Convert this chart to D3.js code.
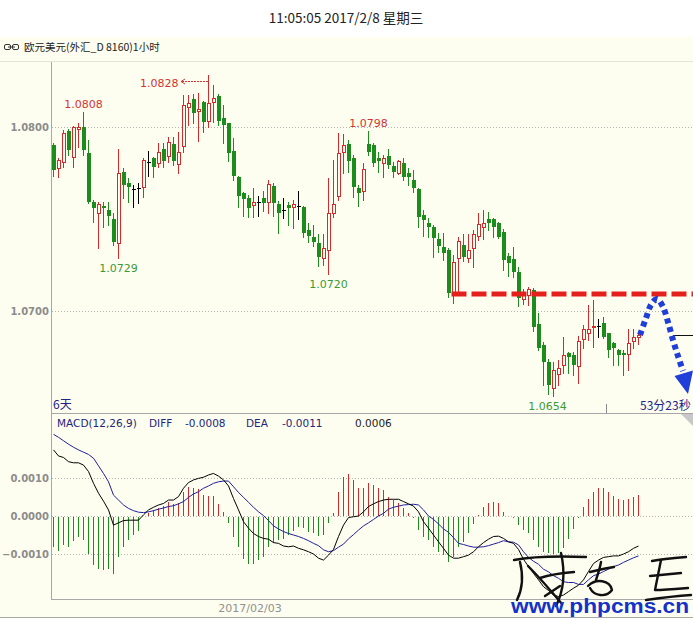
<!DOCTYPE html>
<html><head><meta charset="utf-8">
<script src="https://cdn.jsdelivr.net/npm/d3@7"></script>
<style>html,body{margin:0;padding:0;background:#fff;}svg{display:block;}</style>
</head><body>
<svg id="c" width="693" height="620"></svg>
<script>
// ---------- data ----------
const categories = d3.range(118); // hourly bars, oldest -> newest
const open = [
1.07902,1.07777,1.07810,1.07978,1.07837,1.07989,1.08000,1.07859,1.07592,1.07533,
1.07571,1.07549,1.07500,1.07370,1.07755,1.07696,1.07663,1.07668,1.07674,1.07810,
1.07832,1.07804,1.07880,1.07842,1.07908,1.07799,1.07897,1.08109,1.08152,1.08087,
1.08136,1.08033,1.08136,1.08168,1.08049,1.08022,1.07870,1.07728,1.07641,1.07614,
1.07576,1.07592,1.07614,1.07592,1.07679,1.07582,1.07549,1.07576,1.07565,1.07571,
1.07565,1.07440,1.07402,1.07370,1.07288,1.07332,1.07533,1.07625,1.07864,1.07908,
1.07832,1.07668,1.07652,1.07908,1.07902,1.07832,1.07804,1.07842,1.07788,1.07750,
1.07804,1.07750,1.07712,1.07663,1.07522,1.07478,1.07457,1.07391,1.07348,1.07332,
1.07103,1.07288,1.07359,1.07288,1.07342,1.07408,1.07457,1.07500,1.07500,1.07478,
1.07429,1.07299,1.07283,1.07212,1.07065,1.07087,1.07114,1.06929,1.06815,1.06723,
1.06582,1.06658,1.06707,1.06772,1.06761,1.06701,1.06848,1.06880,1.06913,1.06918,
1.06935,1.06880,1.06826,1.06788,1.06772,1.06766,1.06837,1.06859];
const high = [
1.07913,1.07832,1.07984,1.07989,1.08005,1.08022,1.08082,1.07929,1.07603,1.07592,
1.07592,1.07592,1.07533,1.07880,1.07777,1.07723,1.07685,1.07696,1.07832,1.07870,
1.07837,1.07913,1.07913,1.07946,1.07946,1.07973,1.08174,1.08174,1.08179,1.08185,
1.08141,1.08283,1.08228,1.08179,1.08120,1.08022,1.07940,1.07734,1.07647,1.07630,
1.07668,1.07625,1.07652,1.07712,1.07696,1.07598,1.07614,1.07592,1.07603,1.07652,
1.07571,1.07478,1.07467,1.07418,1.07418,1.07723,1.07821,1.07967,1.07962,1.07929,
1.07848,1.07685,1.07804,1.07978,1.07913,1.07864,1.07848,1.07880,1.07810,1.07821,
1.07832,1.07777,1.07766,1.07668,1.07549,1.07505,1.07467,1.07424,1.07424,1.07342,
1.07304,1.07402,1.07418,1.07418,1.07440,1.07533,1.07549,1.07538,1.07505,1.07484,
1.07446,1.07315,1.07348,1.07239,1.07120,1.07130,1.07125,1.06989,1.06832,1.06739,
1.06723,1.06734,1.06859,1.06777,1.06777,1.06864,1.06924,1.07033,1.07060,1.06957,
1.06967,1.06880,1.06832,1.06793,1.06788,1.06902,1.06902,1.06875];
const low = [
1.07734,1.07728,1.07783,1.07848,1.07783,1.07891,1.07848,1.07587,1.07484,1.07342,
1.07457,1.07467,1.07359,1.07288,1.07614,1.07592,1.07565,1.07587,1.07620,1.07734,
1.07728,1.07783,1.07783,1.07810,1.07793,1.07750,1.07864,1.08011,1.08022,1.07924,
1.07973,1.08000,1.08027,1.08011,1.07913,1.07815,1.07712,1.07565,1.07516,1.07511,
1.07511,1.07516,1.07543,1.07533,1.07516,1.07424,1.07505,1.07467,1.07451,1.07500,
1.07402,1.07375,1.07353,1.07245,1.07250,1.07201,1.07511,1.07603,1.07750,1.07755,
1.07620,1.07571,1.07603,1.07848,1.07788,1.07755,1.07728,1.07777,1.07728,1.07745,
1.07712,1.07685,1.07647,1.07457,1.07408,1.07402,1.07293,1.07321,1.07277,1.07076,
1.07043,1.07103,1.07272,1.07266,1.07239,1.07386,1.07391,1.07440,1.07402,1.07397,
1.07223,1.07190,1.07185,1.07027,1.07038,1.07033,1.06891,1.06788,1.06598,1.06548,
1.06540,1.06598,1.06663,1.06663,1.06652,1.06609,1.06799,1.06842,1.06804,1.06859,
1.06853,1.06750,1.06707,1.06707,1.06652,1.06679,1.06799,1.06821];
const close = [
1.07766,1.07821,1.07967,1.07875,1.08000,1.08000,1.07875,1.07592,1.07560,1.07582,
1.07560,1.07516,1.07375,1.07750,1.07685,1.07674,1.07663,1.07668,1.07821,1.07810,
1.07783,1.07864,1.07815,1.07918,1.07815,1.07864,1.08120,1.08130,1.08076,1.08098,
1.08027,1.08130,1.08158,1.08033,1.08011,1.07859,1.07734,1.07625,1.07609,1.07560,
1.07592,1.07592,1.07587,1.07690,1.07587,1.07533,1.07549,1.07560,1.07582,1.07571,
1.07424,1.07408,1.07375,1.07293,1.07342,1.07533,1.07582,1.07859,1.07902,1.07815,
1.07674,1.07641,1.07772,1.07864,1.07804,1.07815,1.07832,1.07793,1.07755,1.07815,
1.07728,1.07728,1.07668,1.07511,1.07495,1.07457,1.07397,1.07353,1.07315,1.07098,
1.07266,1.07380,1.07293,1.07332,1.07418,1.07473,1.07478,1.07478,1.07457,1.07402,
1.07277,1.07261,1.07212,1.07071,1.07087,1.07120,1.06913,1.06799,1.06723,1.06598,
1.06679,1.06690,1.06761,1.06750,1.06707,1.06837,1.06902,1.06902,1.06918,1.06918,
1.06859,1.06788,1.06799,1.06761,1.06761,1.06826,1.06859,1.06870];

const diff = [
0.00174,0.00158,0.00154,0.00143,0.00140,0.00140,0.00134,0.00117,0.00086,0.00060,
0.00039,0.00016,-0.00024,-0.00018,-0.00012,-0.00011,-0.00011,-0.00011,0.00003,0.00016,
0.00023,0.00029,0.00033,0.00042,0.00042,0.00051,0.00073,0.00088,0.00095,0.00099,
0.00102,0.00108,0.00112,0.00105,0.00095,0.00079,0.00046,0.00016,-0.00015,-0.00032,
-0.00046,-0.00054,-0.00059,-0.00061,-0.00070,-0.00072,-0.00079,-0.00081,-0.00079,-0.00085,
-0.00089,-0.00094,-0.00100,-0.00111,-0.00116,-0.00103,-0.00088,-0.00054,-0.00024,-0.00004,
-0.00002,0.00000,0.00011,0.00025,0.00032,0.00038,0.00042,0.00044,0.00044,0.00044,
0.00038,0.00032,0.00026,0.00011,-0.00015,-0.00032,-0.00050,-0.00068,-0.00085,-0.00103,
-0.00111,-0.00111,-0.00107,-0.00103,-0.00094,-0.00081,-0.00070,-0.00061,-0.00054,-0.00053,
-0.00059,-0.00068,-0.00072,-0.00088,-0.00114,-0.00133,-0.00151,-0.00168,-0.00186,-0.00196,
-0.00208,-0.00212,-0.00208,-0.00199,-0.00190,-0.00182,-0.00168,-0.00146,-0.00125,-0.00116,
-0.00109,-0.00107,-0.00105,-0.00105,-0.00100,-0.00094,-0.00085,-0.00079];
const dea = [
0.00215,0.00207,0.00198,0.00189,0.00181,0.00174,0.00168,0.00162,0.00152,0.00132,
0.00112,0.00090,0.00055,0.00042,0.00029,0.00020,0.00014,0.00010,0.00009,0.00011,
0.00014,0.00018,0.00021,0.00025,0.00027,0.00032,0.00038,0.00049,0.00058,0.00064,
0.00073,0.00079,0.00086,0.00090,0.00092,0.00092,0.00077,0.00062,0.00049,0.00036,
0.00023,0.00011,0.00001,-0.00012,-0.00026,-0.00034,-0.00041,-0.00046,-0.00050,-0.00054,
-0.00059,-0.00065,-0.00072,-0.00078,-0.00089,-0.00094,-0.00091,-0.00082,-0.00074,-0.00060,
-0.00049,-0.00037,-0.00026,-0.00018,-0.00009,0.00000,0.00007,0.00018,0.00023,0.00026,
0.00029,0.00030,0.00031,0.00029,0.00016,0.00000,-0.00009,-0.00021,-0.00034,-0.00043,
-0.00057,-0.00072,-0.00075,-0.00079,-0.00082,-0.00082,-0.00081,-0.00078,-0.00074,-0.00070,
-0.00065,-0.00068,-0.00069,-0.00076,-0.00094,-0.00109,-0.00119,-0.00127,-0.00140,-0.00147,
-0.00157,-0.00164,-0.00173,-0.00175,-0.00175,-0.00180,-0.00180,-0.00168,-0.00157,-0.00153,
-0.00146,-0.00140,-0.00133,-0.00129,-0.00122,-0.00116,-0.00110,-0.00105];
const macdBar = [
-0.00081,-0.00091,-0.00076,-0.00082,-0.00065,-0.00056,-0.00063,-0.00100,-0.00129,-0.00140,
-0.00142,-0.00140,-0.00153,-0.00107,-0.00081,-0.00063,-0.00050,-0.00039,-0.00002,0.00007,
0.00016,0.00020,0.00026,0.00038,0.00032,0.00033,0.00064,0.00077,0.00073,0.00070,
0.00055,0.00053,0.00053,0.00032,0.00011,-0.00018,-0.00054,-0.00081,-0.00114,-0.00125,
-0.00125,-0.00116,-0.00107,-0.00081,-0.00072,-0.00063,-0.00061,-0.00050,-0.00039,-0.00028,
-0.00032,-0.00041,-0.00044,-0.00053,-0.00050,-0.00018,0.00007,0.00064,0.00102,0.00111,
0.00096,0.00075,0.00075,0.00086,0.00082,0.00073,0.00068,0.00051,0.00042,0.00035,
0.00020,0.00009,-0.00004,-0.00037,-0.00054,-0.00063,-0.00081,-0.00094,-0.00103,-0.00120,
-0.00107,-0.00081,-0.00068,-0.00046,-0.00021,0.00002,0.00023,0.00033,0.00038,0.00035,
0.00011,-0.00001,-0.00006,-0.00024,-0.00037,-0.00046,-0.00063,-0.00081,-0.00094,-0.00098,
-0.00100,-0.00098,-0.00085,-0.00061,-0.00035,-0.00004,0.00023,0.00044,0.00064,0.00073,
0.00073,0.00064,0.00053,0.00046,0.00042,0.00044,0.00049,0.00055];

const priceTicks = [1.07, 1.08];
const macdTicks = [0.001, 0, -0.001];
const highMarks = [6, 31, 63];
const lowMarks = [13, 55, 100];
const resistance = 1.07092;
const resistanceFrom = 79.6;
const arrowIdx = [117.3, 118.5, 119.5, 120.7, 121.9, 122.9, 123.9, 124.9, 125.9];
const arrowPrice = [1.06870, 1.06962, 1.07033, 1.07065, 1.07022, 1.06940, 1.06842, 1.06755, 1.06674];
const arrowHeadIdx = [124.2, 127.9, 126.9];
const arrowHeadPrice = [1.06647, 1.06677, 1.06549];
const titleText = "11:05:05 2017/2/8 星期三";
const headerText = "欧元美元(外汇_D 8160)1小时";
const dateLabel = "2017/02/03";
const macdInfo = {diff: "-0.0008", dea: "-0.0011", bar: "0.0006"};

// ---------- drawing ----------
const W = 693, H = 620;
const BG = '#fefef0', RED = '#d42a2a', GREEN = '#1c8c1c', AXC = '#a8a8a8';
const svg = d3.select('#c');
svg.append('rect').attr('width', W).attr('height', H).attr('fill', '#fff');
svg.append('rect').attr('y', 37).attr('width', W).attr('height', 581).attr('fill', BG);

const x = d3.scaleBand().domain(categories).range([51, 641]);
const col = i => Math.floor(x(i) + x.bandwidth() / 2);
const xLin = d3.scaleLinear().domain([0, 117]).range([53.5, 638.5]);
const yP = d3.scaleLinear().domain([1.07, 1.08]).range([311, 127]);
const yM = d3.scaleLinear().domain([-0.001, 0.001]).range([554, 478]);

// title & header
svg.append('text').attr('x', 346).attr('y', 23).attr('text-anchor', 'middle')
  .attr('font-family', '"Noto Sans CJK SC", "DejaVu Sans", sans-serif').attr('font-size', 13.5)
  .attr('fill', '#222').text(titleText);
const ic = svg.append('g').attr('fill', 'none').attr('stroke', '#333').attr('stroke-width', 1);
ic.append('rect').attr('x', 4.5).attr('y', 44.5).attr('width', 6).attr('height', 5).attr('rx', 1.5);
ic.append('rect').attr('x', 12.5).attr('y', 44.5).attr('width', 6).attr('height', 5).attr('rx', 1.5);
ic.append('line').attr('x1', 8).attr('x2', 15).attr('y1', 47).attr('y2', 47);
svg.append('text').attr('x', 24).attr('y', 51)
  .attr('font-family', '"Noto Sans CJK SC", sans-serif').attr('font-size', 10.5)
  .attr('fill', '#222').text(headerText);

// frame lines
svg.append('line').attr('x1', 0).attr('x2', W).attr('y1', 61.5).attr('y2', 61.5).attr('stroke', '#e4e4d4');
svg.append('line').attr('x1', 51.5).attr('x2', 51.5).attr('y1', 62).attr('y2', 600).attr('stroke', AXC);
svg.append('line').attr('x1', 51).attr('x2', W).attr('y1', 413.5).attr('y2', 413.5).attr('stroke', AXC);
svg.append('line').attr('x1', 51).attr('x2', W).attr('y1', 599.5).attr('y2', 599.5).attr('stroke', AXC);
svg.append('line').attr('x1', 0).attr('x2', W).attr('y1', 617.5).attr('y2', 617.5).attr('stroke', AXC);
svg.append('line').attr('x1', 606.5).attr('x2', 606.5).attr('y1', 404).attr('y2', 413).attr('stroke', '#888');

// grid lines
const grid = svg.append('g').attr('stroke', '#b4b4b4').attr('stroke-dasharray', '1,2');
priceTicks.forEach(t => grid.append('line').attr('x1', 52).attr('x2', W)
  .attr('y1', Math.round(yP(t)) + 0.5).attr('y2', Math.round(yP(t)) + 0.5));
macdTicks.forEach(t => grid.append('line').attr('x1', 52).attr('x2', W)
  .attr('y1', Math.round(yM(t)) + 0.5).attr('y2', Math.round(yM(t)) + 0.5));

// axes labels
function styleAxis(g) {
  g.select('.domain').remove();
  g.selectAll('line').remove();
  g.selectAll('text').attr('font-family', '"DejaVu Sans", Verdana, sans-serif')
    .attr('font-size', 10).attr('font-weight', 'bold').attr('fill', '#8c8c8c');
}
svg.append('g').attr('transform', 'translate(49,0)')
  .call(d3.axisLeft(yP).tickValues(priceTicks).tickFormat(d3.format('.4f')).tickSize(0).tickPadding(0))
  .call(styleAxis);
svg.append('g').attr('transform', 'translate(49,0)')
  .call(d3.axisLeft(yM).tickValues(macdTicks).tickFormat(d3.format('.4f')).tickSize(0).tickPadding(0))
  .call(styleAxis);

// candles
const cg = svg.append('g');
categories.forEach(i => {
  const c = col(i), o = open[i], cl = close[i];
  const color = cl > o ? RED : (cl < o ? GREEN : '#000');
  const yh = Math.round(yP(high[i])), yl = Math.round(yP(low[i]));
  cg.append('line').attr('x1', c + 0.5).attr('x2', c + 0.5).attr('y1', yh).attr('y2', yl + 1)
    .attr('stroke', color);
  const yt = Math.round(yP(Math.max(o, cl))), yb = Math.round(yP(Math.min(o, cl)));
  if (cl > o) {
    cg.append('rect').attr('x', c - 0.5).attr('y', yt + 0.5).attr('width', 3)
      .attr('height', Math.max(1, yb - yt)).attr('fill', BG).attr('stroke', RED);
  } else if (cl < o) {
    cg.append('rect').attr('x', c - 1).attr('y', yt).attr('width', 4)
      .attr('height', Math.max(1, yb - yt)).attr('fill', GREEN);
  } else {
    cg.append('line').attr('x1', c - 1).attr('x2', c + 3).attr('y1', yt + 0.5).attr('y2', yt + 0.5)
      .attr('stroke', '#000');
  }
});

// extreme labels
const lblFont = '"DejaVu Sans", Verdana, sans-serif';
const fmt = d3.format('.4f');
const hiOff = {6: [0, -4], 31: [-30, 12], 63: [0, -4]};
highMarks.forEach(i => {
  const o = hiOff[i];
  svg.append('text').attr('x', col(i) + 0.5 + o[0]).attr('y', yP(high[i]) + o[1])
    .attr('text-anchor', i === 31 ? 'end' : 'middle').attr('font-family', lblFont).attr('font-size', 11)
    .attr('fill', '#d23434').text(fmt(high[i]));
});
const ay = Math.round(yP(high[31])) + 6.5;
svg.append('line').attr('x1', 182).attr('x2', col(31)).attr('y1', ay).attr('y2', ay)
  .attr('stroke', '#d23434').attr('stroke-dasharray', '2,1');
svg.append('path').attr('d', `M185,${ay - 2.5} L181,${ay} L185,${ay + 2.5}`).attr('fill', 'none').attr('stroke', '#d23434');
const loOff = {13: 0, 55: 0, 100: -6};
lowMarks.forEach(i => {
  svg.append('text').attr('x', col(i) + 0.5 + loOff[i]).attr('y', yP(low[i]) + 14)
    .attr('text-anchor', 'middle').attr('font-family', lblFont).attr('font-size', 11)
    .attr('fill', '#3a9a3a').text(fmt(low[i]));
});

// resistance dashed line
svg.append('line').attr('x1', xLin(resistanceFrom)).attr('x2', W)
  .attr('y1', yP(resistance)).attr('y2', yP(resistance))
  .attr('stroke', '#e4201c').attr('stroke-width', 5).attr('stroke-dasharray', '15,5');

// last close line
svg.append('line').attr('x1', 673).attr('x2', W)
  .attr('y1', Math.round(yP(close[117])) + 0.5).attr('y2', Math.round(yP(close[117])) + 0.5)
  .attr('stroke', '#111');

// blue dotted arrow
const arrowLine = d3.line().curve(d3.curveCatmullRom).x(d => xLin(d[0])).y(d => yP(d[1]));
svg.append('path').attr('d', arrowLine(arrowIdx.map((v, k) => [v, arrowPrice[k]])))
  .attr('fill', 'none').attr('stroke', '#1f3fd8').attr('stroke-width', 6).attr('stroke-dasharray', '5,4');
svg.append('path').attr('d', 'M' + arrowHeadIdx.map((v, k) => xLin(v) + ',' + yP(arrowHeadPrice[k])).join('L') + 'Z')
  .attr('fill', '#1f3fd8');

// bottom info texts
const infoFont = '"DejaVu Sans", Verdana, sans-serif';
svg.append('text').attr('x', 53).attr('y', 409).attr('font-family', '"Noto Sans CJK SC", sans-serif')
  .attr('font-size', 12).attr('fill', '#22228a').text('6天');
svg.append('text').attr('x', 640).attr('y', 410).attr('font-family', '"Noto Sans CJK SC", sans-serif')
  .attr('font-size', 12).attr('fill', '#22228a').text('53分23秒');
svg.append('polygon').attr('points', '681,414 693,414 693,426').attr('fill', '#c8c8c8');

const mi = svg.append('g').attr('font-family', infoFont).attr('font-size', 10.5).attr('fill', '#24247a');
mi.append('text').attr('x', 57).attr('y', 427).text('MACD(12,26,9)');
mi.append('text').attr('x', 149).attr('y', 427).text('DIFF');
mi.append('text').attr('x', 185).attr('y', 427).text(macdInfo.diff);
mi.append('text').attr('x', 246).attr('y', 427).text('DEA');
mi.append('text').attr('x', 282).attr('y', 427).text(macdInfo.dea);
mi.append('text').attr('x', 355).attr('y', 427).attr('fill', '#222').text(macdInfo.bar);

// MACD histogram
const hg = svg.append('g');
const y0 = Math.round(yM(0));
categories.forEach(i => {
  const v = macdBar[i];
  const yv = Math.round(yM(v));
  if (yv === y0) return;
  hg.append('line').attr('x1', col(i) + 0.5).attr('x2', col(i) + 0.5)
    .attr('y1', v > 0 ? y0 : y0 + 1).attr('y2', yv)
    .attr('stroke', v > 0 ? RED : GREEN);
});
const mline = arr => d3.line().x(i => x(i) + x.bandwidth() / 2).y(i => yM(arr[i]))(categories);
svg.append('path').attr('d', mline(dea)).attr('fill', 'none').attr('stroke', '#1e1e9e').attr('stroke-width', 1);
svg.append('path').attr('d', mline(diff)).attr('fill', 'none').attr('stroke', '#000').attr('stroke-width', 1);

// date label
svg.append('text').attr('x', 250).attr('y', 612).attr('text-anchor', 'middle')
  .attr('font-family', infoFont).attr('font-size', 11).attr('fill', '#909090').text(dateLabel);

// watermark: handwritten signature + site
const sig = svg.append('g').attr('fill', 'none').attr('stroke', '#111').attr('stroke-width', 2.4)
  .attr('stroke-linecap', 'round').attr('stroke-linejoin', 'round');
['M514,560 C535,556 560,556 586,557',
 'M520,562 C524,578 522,590 517,600',
 'M528,566 C540,578 552,592 562,604',
 'M561,553 C566,575 563,592 556,606',
 'M540,578 C552,574 562,573 574,572',
 'M545,596 L560,586',
 'M590,572 C598,570 606,568 614,567',
 'M601,562 C600,568 598,574 596,580',
 'M588,586 C596,578 610,580 612,590 C606,598 594,596 590,588',
 'M652,561 C662,559 674,558 686,557',
 'M650,576 C660,575 670,574 681,573',
 'M661,560 C659,570 657,580 655,590 C665,590 676,589 688,588',
 'M646,600 C660,598 676,596 691,595'].forEach(d => sig.append('path').attr('d', d));
svg.append('text').attr('x', 511).attr('y', 613).attr('textLength', 178).attr('lengthAdjust', 'spacingAndGlyphs')
  .attr('font-family', '"Liberation Sans", Arial, sans-serif').attr('font-weight', 'bold').attr('font-size', 20)
  .attr('fill', '#1432c8').text('www.phpcms.cn');
</script>
</body></html>
